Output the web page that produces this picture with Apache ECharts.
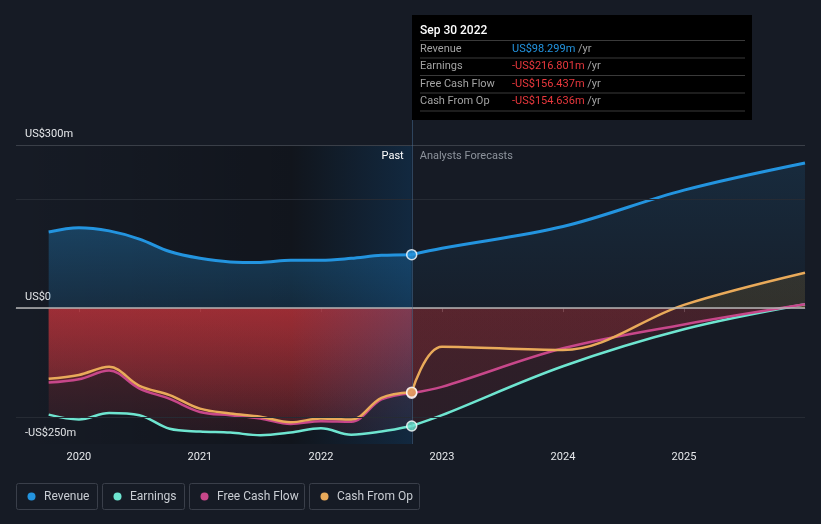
<!DOCTYPE html>
<html><head><meta charset="utf-8">
<script src="https://cdn.jsdelivr.net/npm/echarts@6/dist/echarts.min.js"></script>
<style>html,body{margin:0;padding:0;background:#161b25;}#c{width:821px;height:524px;}</style>
</head><body><div id="c"></div>
<script>
// ---- data ----
const seriesNames = ['Revenue', 'Earnings', 'Free Cash Flow', 'Cash From Op'];
const pastX = [2019.75, 2020, 2020.25, 2020.5, 2020.75, 2021, 2021.25, 2021.5, 2021.75, 2022, 2022.25, 2022.5, 2022.75];
const revenuePast  = [140, 148, 142, 127, 104, 91.5, 85, 84, 88, 88, 91.5, 97, 98.299];
const earningsPast = [-196, -205, -193, -197, -222, -227, -229, -234, -229, -221, -233, -227, -216.801];
const fcfPast      = [-137, -131, -115, -148, -167, -191, -197, -203, -213, -208, -209, -168, -156.437];
const cfoPast      = [-130, -123, -108, -143, -160, -185, -194, -200, -210, -203, -205, -165, -154.636];
const forecastX = [2022.75, 2023, 2024, 2025, 2026];
const revenueFc  = [98.299, 110, 150, 217, 267];
const earningsFc = [-216.801, -197, -107, -39, 7];
const fcfFc      = [-156.437, -145, -74, -30, 7];
const cfoFc      = [-154.636, -71, -77, 6, 65];
const xTickValues = [2020, 2021, 2022, 2023, 2024, 2025];
const yTickValues = [300, 0, -250];
const yTickLabels = ['US$300m', 'US$0', '-US$250m'];
const gridValues = [300, 200, 0, -200];
const xMin = 2019.48, xMax = 2026.0;
const bandStart = 2021.75, pastEnd = 2022.75;
const tooltipDate = 'Sep 30 2022';

// ---- styling ----
const FONT = 'Roboto, sans-serif';
const COLORS = ['#2394df', '#6ee5d0', '#c7478a', '#e9aa5a'];
const pastSets = [revenuePast, earningsPast, fcfPast, cfoPast];
const fcSets = [revenueFc, earningsFc, fcfFc, cfoFc];

function pairs(xs, ys) { return xs.map((x, i) => [x, ys[i]]); }
function vgrad(stops) { return new echarts.graphic.LinearGradient(0, 0, 0, 1, stops); }
function negPosGrad(ys, pos, negTop, negBot) {
  const mx = Math.max(0, ...ys), mn = Math.min(0, ...ys);
  if (mx <= 0) return vgrad([{offset: 0, color: negTop}, {offset: 1, color: negBot}]);
  const off = mx / (mx - mn);
  return vgrad([{offset: 0, color: pos}, {offset: off, color: pos}, {offset: off, color: negTop}, {offset: 1, color: negBot}]);
}

const SMOOTH = 0.35;
const series = [];

// background shading (custom series through axis scale)
function shade(range, fill, z) {
  return {
    type: 'custom', silent: true, z: z, data: [range],
    renderItem: function (params, api) {
      const x0 = api.coord([api.value(0), 0])[0];
      const x1 = api.coord([api.value(1), 0])[0];
      const cs = params.coordSys;
      return {type: 'rect', shape: {x: x0, y: cs.y, width: x1 - x0, height: cs.height}, style: {fill: fill}};
    }
  };
}
series.push(shade([xMin, bandStart], new echarts.graphic.LinearGradient(0, 0, 1, 0, [{offset: 0, color: 'rgba(0,0,0,0)'}, {offset: 1, color: 'rgba(0,0,0,0.22)'}]), 1));
series.push(shade([bandStart, pastEnd], 'rgba(0,0,0,0.22)', 1));
series.push(shade([bandStart, pastEnd], new echarts.graphic.LinearGradient(0, 0, 1, 0, [{offset: 0, color: 'rgba(20,110,190,0)'}, {offset: 1, color: 'rgba(20,110,190,0.22)'}]), 3));

// areas
const posFill = 'rgba(233,170,50,0.13)';
for (let k = 0; k < 4; k++) {
  let pastFill, fcFill;
  if (k === 0) {
    pastFill = vgrad([{offset: 0, color: 'rgba(35,148,223,0.32)'}, {offset: 1, color: 'rgba(35,148,223,0.16)'}]);
    fcFill = vgrad([{offset: 0, color: 'rgba(35,148,223,0.13)'}, {offset: 1, color: 'rgba(35,148,223,0.03)'}]);
  } else {
    pastFill = negPosGrad(pastSets[k], posFill, 'rgba(215,55,62,0.33)', 'rgba(215,55,62,0.09)');
    fcFill = negPosGrad(fcSets[k], posFill, 'rgba(215,55,62,0.13)', 'rgba(215,55,62,0.11)');
  }
  series.push({type: 'line', silent: true, z: 2, smooth: SMOOTH, symbol: 'none', data: pairs(pastX, pastSets[k]), lineStyle: {width: 0}, areaStyle: {color: pastFill, opacity: 1}});
  series.push({type: 'line', silent: true, z: 2, smooth: SMOOTH, symbol: 'none', data: pairs(forecastX, fcSets[k]), lineStyle: {width: 0}, areaStyle: {color: fcFill, opacity: 1}});
}

// lines
for (let k = 0; k < 4; k++) {
  const w = k === 0 ? 3 : 2.5;
  const common = {type: 'line', name: seriesNames[k], silent: true, z: 4, smooth: SMOOTH, symbol: 'none', lineStyle: {color: COLORS[k], width: w}};
  const s1 = Object.assign({}, common, {data: pairs(pastX, pastSets[k])});
  if (k === 0) {
    s1.markLine = {
      silent: true, symbol: 'none', animation: false, label: {show: false},
      data: gridValues.map(v => ({yAxis: v, lineStyle: {type: 'solid', color: v === 300 ? '#3a3f48' : (v === 0 ? '#b4b4b4' : '#262b34'), width: v === 0 ? 1.5 : 1}}))
    };
  }
  series.push(s1);
  series.push(Object.assign({}, common, {data: pairs(forecastX, fcSets[k])}));
}

// markers at last reported point
for (let k = 0; k < 4; k++) {
  series.push({type: 'scatter', silent: true, z: 6, symbol: 'circle', symbolSize: 10,
    data: [[pastX[pastX.length - 1], pastSets[k][pastSets[k].length - 1]]],
    itemStyle: {color: COLORS[k], borderColor: '#ffffff', borderWidth: 1.5}});
}

const chart = echarts.init(document.getElementById('c'), null, {renderer: 'canvas'});
chart.setOption({
  backgroundColor: '#161b25',
  animation: false,
  textStyle: {fontFamily: FONT},
  grid: {left: 16, right: 16, top: 145, bottom: 80, containLabel: false},
  xAxis: {
    type: 'value', min: xMin, max: xMax,
    axisLine: {show: true, lineStyle: {color: '#3a3f48', width: 1}},
    axisTick: {show: true, length: 4, customValues: xTickValues, lineStyle: {color: '#4a4f58'}},
    axisLabel: {customValues: xTickValues, formatter: v => String(v), color: '#e6e8eb', fontSize: 11, margin: 8, fontFamily: FONT},
    splitLine: {show: false}
  },
  yAxis: {
    type: 'value', min: -250, max: 300,
    axisLine: {show: false}, axisTick: {show: false}, splitLine: {show: false},
    axisLabel: {inside: true, margin: 9, verticalAlign: 'bottom', padding: [0, 0, 5, 0], customValues: yTickValues,
      formatter: v => yTickLabels[yTickValues.indexOf(v)], color: '#e6e8eb', fontSize: 11, fontFamily: FONT}
  },
  series: series
});

// ---- annotations ----
const px = chart.convertToPixel({xAxisIndex: 0}, pastEnd);
const gridTop = chart.convertToPixel({yAxisIndex: 0}, 300);
const gridBot = chart.convertToPixel({yAxisIndex: 0}, -250);
const g = [];
const tipX = Math.round(px), tipY = 15, tipW = 340, tipH = 105;
g.push({type: 'line', silent: true, z: 5, shape: {x1: tipX + 0.5, y1: tipY + tipH, x2: tipX + 0.5, y2: gridBot}, style: {stroke: 'rgba(70,110,150,0.5)', lineWidth: 1}});
g.push({type: 'rect', silent: true, z: 10, shape: {x: tipX, y: tipY, width: tipW, height: tipH}, style: {fill: '#000000'}});
g.push({type: 'text', silent: true, z: 11, style: {x: tipX + 8, y: 31, text: tooltipDate, fill: '#ffffff', font: '500 12px ' + FONT, verticalAlign: 'middle'}});
function fmt(v) { return (v < 0 ? '-' : '') + 'US$' + Math.abs(v).toFixed(3) + 'm'; }
const rowY = [49, 66.5, 84, 101.5];
for (let k = 0; k < 4; k++) {
  const v = pastSets[k][pastSets[k].length - 1];
  g.push({type: 'line', silent: true, z: 11, shape: {x1: tipX + 8, y1: rowY[k] - 8.5, x2: tipX + 333, y2: rowY[k] - 8.5}, style: {stroke: '#3a3a3a', lineWidth: 1}});
  g.push({type: 'text', silent: true, z: 11, style: {x: tipX + 8, y: rowY[k], text: seriesNames[k], fill: '#a3a3a3', font: '11px ' + FONT, verticalAlign: 'middle'}});
  g.push({type: 'text', silent: true, z: 11, style: {x: tipX + 100, y: rowY[k], text: '{v|' + fmt(v) + '}{u| /yr}', verticalAlign: 'middle',
    rich: {v: {fill: v < 0 ? '#e8383d' : '#2394df', font: '11px ' + FONT}, u: {fill: '#a3a3a3', font: '11px ' + FONT}}}});
}
g.push({type: 'line', silent: true, z: 11, shape: {x1: tipX + 8, y1: 111, x2: tipX + 333, y2: 111}, style: {stroke: '#3a3a3a', lineWidth: 1}});
g.push({type: 'text', silent: true, z: 7, style: {x: px - 8, y: 156, text: 'Past', fill: '#ffffff', font: '11px ' + FONT, align: 'right', verticalAlign: 'middle'}});
g.push({type: 'text', silent: true, z: 7, style: {x: px + 8, y: 156, text: 'Analysts Forecasts', fill: '#8d939c', font: '11px ' + FONT, align: 'left', verticalAlign: 'middle'}});

// legend
const legendLayout = [{x: 16, w: 81}, {x: 102, w: 82}, {x: 189, w: 115}, {x: 309, w: 110}];
for (let k = 0; k < 4; k++) {
  const L = legendLayout[k];
  g.push({type: 'rect', silent: true, shape: {x: L.x + 0.5, y: 483.5, width: L.w, height: 26, r: 2}, style: {fill: 'transparent', stroke: '#3a3f4a', lineWidth: 1}});
  g.push({type: 'circle', silent: true, shape: {cx: L.x + 15.5, cy: 496.5, r: 4}, style: {fill: COLORS[k]}});
  g.push({type: 'text', silent: true, style: {x: L.x + 28, y: 496.5, text: seriesNames[k], fill: '#c9cdd3', font: '12px ' + FONT, verticalAlign: 'middle'}});
}
chart.setOption({graphic: g});
</script>
</body></html>
